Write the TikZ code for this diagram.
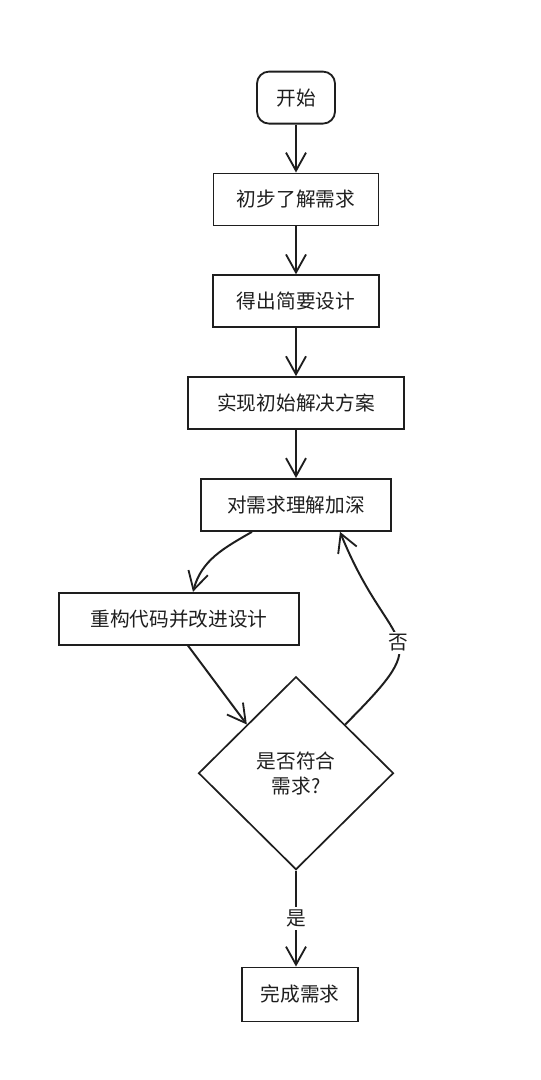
\documentclass[tikz,border=0pt]{standalone}
\usepackage{fontspec}
\newfontfamily\cjk{Noto Sans CJK SC}
\usepackage{xcolor}
\usepackage{tikz}
\usetikzlibrary{shapes.geometric, arrows.meta, positioning}
\definecolor{ink}{HTML}{1E1E1E}

\begin{document}
\begin{tikzpicture}[
            node distance=1.2cm,
            font=\cjk\fontsize{14}{18}\selectfont,
            every node/.style={text=ink},
            stepbox/.style={rectangle, draw=ink, line width=1.3pt, minimum height=1.3cm, inner sep=0pt},
            startbox/.style={stepbox, rounded corners=0.3cm},
            check/.style={diamond, draw=ink, line width=1.2pt, minimum width=4.875cm, minimum height=4.825cm, align=center, inner sep=0pt},
            flow/.style={draw=ink, line width=1.4pt, -{Straight Barb[length=0.45cm, width=0.5cm, line width=1.3pt]}},
            tag/.style={fill=white, inner sep=2pt}
        ]
        \useasboundingbox (0,0) rectangle (13.5,-27);

        % Main steps
        \node[startbox, minimum width=1.95cm] (start) at (7.4,-2.44) {开始};
        \node[stepbox, minimum width=4.125cm, below=of start] (learn) {初步了解需求};
        \node[stepbox, minimum width=4.15cm, below=of learn] (design) {得出简要设计};
        \node[stepbox, minimum width=5.4cm, below=of design] (impl) {实现初始解决方案};
        \node[stepbox, minimum width=4.75cm, below=of impl] (deepen) {对需求理解加深};

        % Loop
        \node[stepbox, minimum width=6.0cm, below=1.5cm of deepen, xshift=-2.925cm] (refactor) {重构代码并改进设计};
        \node[check, below=3.6cm of deepen] (fit) {是否符合\\需求?};
        \node[stepbox, minimum width=2.9cm, minimum height=1.35cm, below=2.4cm of fit, xshift=0.1cm] (done) {完成需求};

        % Connections
        \draw[flow] (start) -- (learn);
        \draw[flow] (learn) -- (design);
        \draw[flow] (design) -- (impl);
        \draw[flow] (impl) -- (deepen);
        \draw[flow] ([xshift=-1.1cm]deepen.south) to[out=-150, in=75] ([xshift=0.35cm]refactor.north);
        \draw[flow] ([xshift=0.225cm]refactor.south) -- (fit.north west);
        \draw[flow] (fit.north east) to[out=45, in=-68, looseness=1.8] node[tag, pos=0.47] {否} ([xshift=1.1cm]deepen.south);
        \draw[flow] (fit.south) -- node[tag] {是} (fit.south |- done.north);

    \end{tikzpicture}
\end{document}
